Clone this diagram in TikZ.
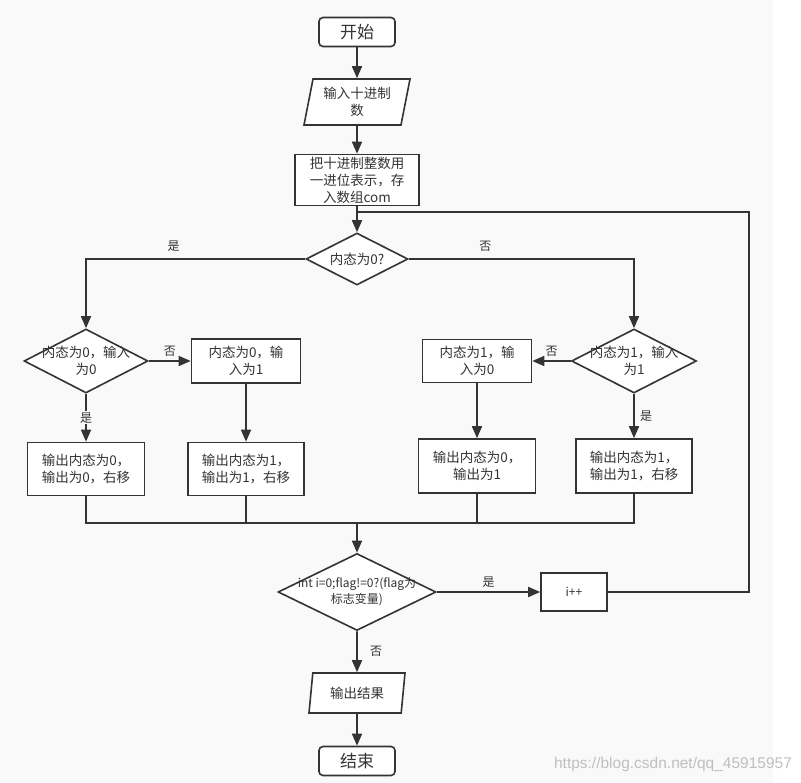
\documentclass[tikz,border=0pt]{standalone}
\usepackage{fontspec}
\setmainfont{Noto Sans CJK SC}
\newfontfamily\wmfont{Liberation Sans}
\usetikzlibrary{arrows.meta,shapes.geometric}
\definecolor{ln}{HTML}{333333}
\definecolor{bg}{HTML}{F9F9F9}
\tikzset{
  >={Triangle[length=12pt,width=10pt]},
  term/.style={draw,fill=white,rounded corners=4pt,minimum width=76pt,minimum height=29pt,inner sep=0pt,font=\fontsize{17}{19}\selectfont},
  blk/.style={draw,fill=white,inner sep=0pt,align=center,font=\fontsize{13.5}{17}\selectfont},
  io/.style={draw,fill=white,trapezium,trapezium left angle=73,trapezium right angle=107,trapezium stretches body=true,inner sep=0pt,align=center,font=\fontsize{13.5}{17}\selectfont},
  dec/.style={draw,fill=white,diamond,inner sep=0pt},
  dt/.style={align=center,inner sep=0pt,font=\fontsize{13.5}{17}\selectfont},
  yn/.style={font=\fontsize{12}{14}\selectfont},
  every picture/.style={line width=1.6pt,color=ln},
}
\begin{document}
\begin{tikzpicture}[x=1pt,y=-1pt]
\fill[bg] (0,0) rectangle (773,783);
\useasboundingbox (0,0) rectangle (801,783);
\node[term] (start) at (357,32){开始};
\node[io,minimum width=106pt,minimum height=46pt] (inp) at (357,102){输入十进制\\数};
\node[blk,minimum width=124pt,minimum height=51pt] (conv) at (357,180){把十进制整数用\\一进位表示，存\\入数组com};
\node[dec,minimum width=102pt,minimum height=52pt,label={[dt]center:{内态为0?}}] (q0) at (357,259){};
\node[dec,minimum width=124pt,minimum height=64pt,label={[dt]center:{内态为0，输入\\为0}}] (d0) at (86,361){};
\node[blk,minimum width=109pt,minimum height=44pt] (b01) at (246,361){内态为0，输\\入为1};
\node[blk,minimum width=109pt,minimum height=43pt] (b10) at (477,361){内态为1，输\\入为0};
\node[dec,minimum width=125pt,minimum height=64pt,label={[dt]center:{内态为1，输入\\为1}}] (d1) at (634,361){};
\node[blk,minimum width=117pt,minimum height=53pt] (o00) at (86,469){输出内态为0，\\输出为0，右移};
\node[blk,minimum width=116pt,minimum height=53pt] (o11) at (246,469){输出内态为1，\\输出为1，右移};
\node[blk,minimum width=117pt,minimum height=54pt] (o01) at (477,466){输出内态为0，\\输出为1};
\node[blk,minimum width=116pt,minimum height=54pt] (o11r) at (634,466){输出内态为1，\\输出为1，右移};
\node[dec,minimum width=158pt,minimum height=77pt,label={[dt,font=\fontsize{12}{16}\selectfont]center:{int i=0;flag!=0?(flag为\\标志变量)}}] (q1) at (357,592){};
\node[blk,minimum width=66pt,minimum height=38pt,font=\fontsize{12}{14}\selectfont] (inc) at (574,592){i++};
\node[io,minimum width=96pt,minimum height=40pt] (out) at (357,693){输出结果};
\node[term] (stop) at (357,761){结束};
\node[text=black!25,font=\wmfont\fontsize{15.5}{17}\selectfont] (wm) at (673,764){https://blog.csdn.net/qq\_45915957};
\coordinate (jn) at (357,523); \coordinate (rc) at (749,212); \coordinate (back) at (357,212);
\draw[->] (start)--(inp); \draw[->] (inp)--(conv); \draw[->] (conv)--(q0);
\draw[->] (q0.west) -| node[yn,pos=0.3,above=3pt]{是} (d0.north);
\draw[->] (q0.east) -| node[yn,pos=0.17,above=3pt]{否} (d1.north);
\draw[->] (d0.east)--node[yn,above]{否}(b01.west); \draw[->] (d1.west)--node[yn,above]{否}(b10.east);
\draw[->] (d0.south)--node[yn,fill=bg,inner sep=1pt]{是}(o00.north);
\draw[->] (d1.south)--node[yn,right=2pt]{是}(o11r.north);
\draw[->] (b01)--(o11); \draw[->] (b10)--(o01);
\draw (o00.south) |- (jn) (o11.south) |- (jn) (o01.south) |- (jn) (o11r.south) |- (jn);
\draw[->] (jn)--(q1.north);
\draw[->] (q1.east)--node[yn,above]{是}(inc.west);
\draw[->] (q1.south)--node[yn,right=9pt]{否}(out.north);
\draw[->] (out)--(stop);
\draw (inc.east) -| (rc)--(back);
\end{tikzpicture}
\end{document}
